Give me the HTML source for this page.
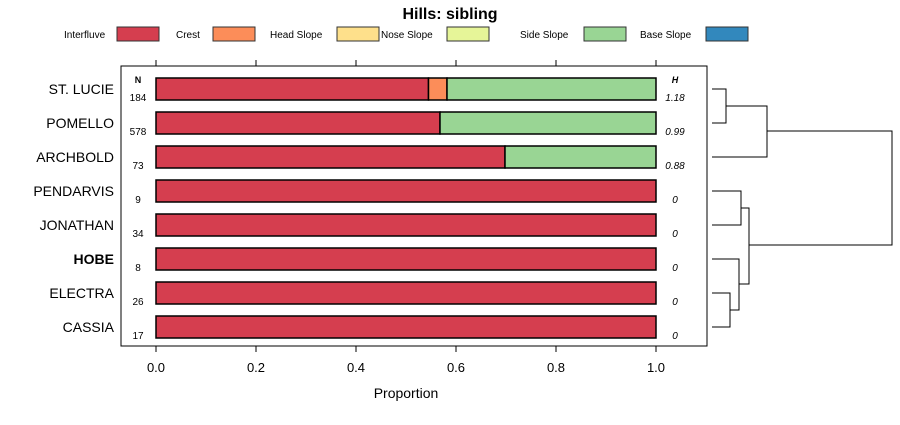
<!DOCTYPE html>
<html><head><meta charset="utf-8"><style>
body{margin:0;background:#fff;}
svg{font-family:"Liberation Sans",sans-serif;}
</style></head><body>
<svg width="900" height="420" viewBox="0 0 900 420">
<text x="450" y="19" font-size="16" font-weight="bold" text-anchor="middle">Hills: sibling</text>
<g id="legend"></g>
<rect x="121" y="66" width="586" height="280" fill="none" stroke="#000" stroke-width="1"/>
<g id="axes"></g>
<g id="bars"></g>
<g id="dendro" stroke="#000" stroke-width="1" fill="none"></g>
<text x="406" y="398" font-size="14" text-anchor="middle">Proportion</text>
</svg>
<script>
const categories=["ST. LUCIE","POMELLO","ARCHBOLD","PENDARVIS","JONATHAN","HOBE","ELECTRA","CASSIA"];
const counts=[184,578,73,9,34,8,26,17];
const entropy=["1.18","0.99","0.88","0","0","0","0","0"];
const seriesNames=["Interfluve","Crest","Head Slope","Nose Slope","Side Slope","Base Slope"];
const seriesColors=["#d53e4f","#fc8d59","#fee08b","#e6f598","#99d594","#3288bd"];
const interfluve=[0.545,0.568,0.698,1,1,1,1,1];
const crest=[0.037,0,0,0,0,0,0,0];
const headSlope=[0,0,0,0,0,0,0,0];
const noseSlope=[0,0,0,0,0,0,0,0];
const sideSlope=[0.418,0.432,0.302,0,0,0,0,0];
const baseSlope=[0,0,0,0,0,0,0,0];
const ticks=[0,0.2,0.4,0.6,0.8,1.0];
const tickLabels=["0.0","0.2","0.4","0.6","0.8","1.0"];
const series=[interfluve,crest,headSlope,noseSlope,sideSlope,baseSlope];
const NS="http://www.w3.org/2000/svg";
const xS=v=>156+v*500;
const yS=i=>89+i*34;
function mk(tag,attrs,parent,txt){const e=document.createElementNS(NS,tag);for(const k in attrs)e.setAttribute(k,attrs[k]);if(txt!==undefined)e.textContent=txt;parent.appendChild(e);return e;}
const svg=document.querySelector('svg');
const lg=document.getElementById('legend');
const lgX=[[64,117],[176,213],[270,337],[381,447],[520,584],[640,706]];
seriesNames.forEach((n,i)=>{
 const t=mk('text',{x:lgX[i][0],y:38,'font-size':10},lg,n);
 
 
 const r=mk('rect',{x:lgX[i][1],y:27,width:42,height:14,fill:seriesColors[i],stroke:'#333','stroke-width':1},lg);
 
 
});
const ax=document.getElementById('axes');
ticks.forEach((t,i)=>{
 const x=xS(t);
 mk('line',{x1:x,y1:60,x2:x,y2:66,stroke:'#000'},ax);
 mk('line',{x1:x,y1:346,x2:x,y2:352,stroke:'#000'},ax);
 const l=mk('text',{x:x,y:372,'font-size':13,'text-anchor':'middle'},ax,tickLabels[i]);
 
 
});
mk('text',{x:138,y:83,'font-size':9,'font-weight':'bold','text-anchor':'middle'},ax,'N');
mk('text',{x:675,y:83,'font-size':9,'font-weight':'bold','font-style':'italic','text-anchor':'middle'},ax,'H');
const bg=document.getElementById('bars');
categories.forEach((c,i)=>{
 const y=yS(i);
 const lab=mk('text',{x:114,y:y+5,'font-size':14,'text-anchor':'end','font-weight':c==='HOBE'?'bold':'normal'},bg,c);
 
 
 const nl=mk('text',{x:138,y:y+12,'font-size':10,'text-anchor':'middle'},bg,counts[i]);
 
 
 const hl=mk('text',{x:675,y:y+12,'font-size':10,'font-style':'italic','text-anchor':'middle'},bg,entropy[i]);
 
 
 let cum=0;
 series.forEach((s,k)=>{
  const v=s[i]; if(v<=0)return;
  const r=mk('rect',{x:xS(cum),y:y-11,width:xS(cum+v)-xS(cum),height:22,fill:seriesColors[k],stroke:'#000','stroke-width':1.5},bg);
  
  
  cum+=v;
 });
});
const dg=document.getElementById('dendro');
function seg(pts){mk('polyline',{points:pts.map(p=>p.join(',')).join(' ')},dg);}
seg([[712,89],[726,89],[726,123],[712,123]]);
seg([[726,106],[767,106],[767,157],[712,157]]);
seg([[712,191],[741,191],[741,225],[712,225]]);
seg([[712,259],[739,259],[739,310],[730,310]]);
seg([[712,293],[730,293],[730,327],[712,327]]);
seg([[741,208],[749,208],[749,284],[739,284]]);
seg([[767,131],[892,131],[892,245],[749,245]]);
</script>
</body></html>
